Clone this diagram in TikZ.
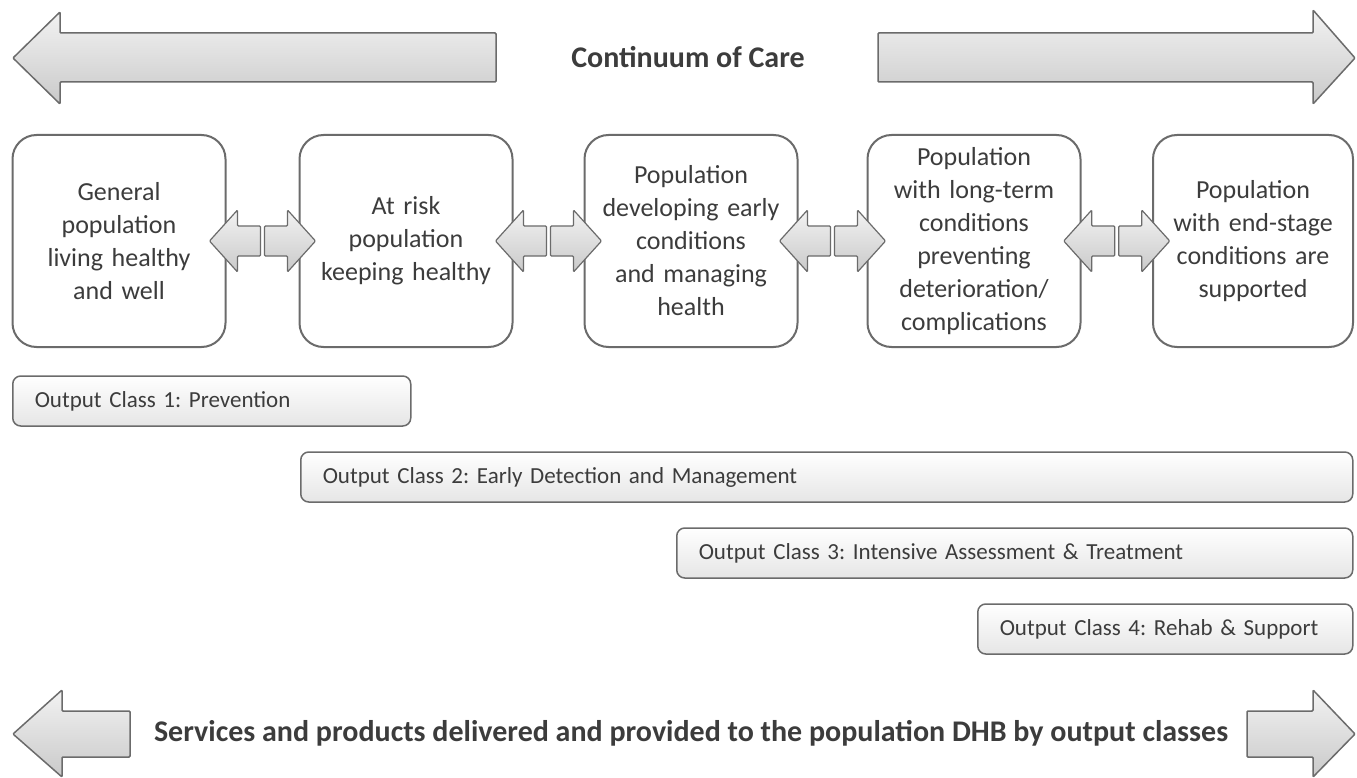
\documentclass[tikz,border=0pt]{standalone}
\usepackage{fontspec}
\setmainfont{Carlito}
\usetikzlibrary{calc}
\frenchspacing

\definecolor{boxgray}{HTML}{6B6B6B}
\definecolor{textgray}{HTML}{3C3C3C}

\tikzset{
  carebox/.style={draw=boxgray, line width=2pt, rounded corners=24pt, fill=white,
    minimum width=213pt, minimum height=212pt, text width=190pt, align=center,
    text=textgray, font=\fontsize{26}{33}\selectfont},
  classbar/.style={draw=boxgray, line width=1.5pt, rounded corners=8pt,
    top color=white, bottom color=gray!20, anchor=west, align=left,
    minimum height=50pt, inner xsep=22pt, text=textgray,
    font=\fontsize{23}{27}\selectfont},
  bigarrow/.style={draw=boxgray, line width=1.5pt, rounded corners=1pt,
    top color=gray!10, bottom color=gray!42},
  headline/.style={text=textgray, font=\fontsize{30}{36}\selectfont\bfseries},
  twoway/.pic={
    % left half
    \path[bigarrow, line width=1.2pt] (-2,-15) -- (-25,-15) -- (-25,-31) -- (-53,0)
      -- (-25,31) -- (-25,15) -- (-2,15) -- cycle;
    % right half
    \path[bigarrow, line width=1.2pt] (2,-15) -- (25,-15) -- (25,-31) -- (53,0)
      -- (25,31) -- (25,15) -- (2,15) -- cycle;
  }
}

\begin{document}
\begin{tikzpicture}[x=1pt, y=-1pt]
    \useasboundingbox (0,0) rectangle (1357,778);

    % Continuum of care arrows
    \path[bigarrow] (13,58) -- (60,12) -- (60,33) -- (496,33) -- (496,82)
      -- (60,82) -- (60,104) -- cycle;
    \path[bigarrow] (1355,58) -- (1313,10) -- (1313,33) -- (878,33) -- (878,82)
      -- (1313,82) -- (1313,104) -- cycle;
    \node[headline] (title) at (688,57) {Continuum of Care};

    % Population groups
    \node[carebox] (gen) at (119,241) {General\\population\\living healthy\\and well};
    \node[carebox] (risk) at (406,241) {At risk\\population\\keeping healthy};
    \node[carebox] (early) at (691,241) {Population\\developing early\\conditions\\and managing\\health};
    \node[carebox] (ltc) at (974,241) {Population\\with long-term\\conditions\\preventing\\deterioration/\\complications};
    \node[carebox, minimum width=200pt] (endstage) at (1253,241) {Population\\with end-stage\\conditions are\\supported};

    % Arrows between the groups
    \pic at ($(gen.east)!0.5!(risk.west)$) {twoway};
    \pic at ($(risk.east)!0.5!(early.west)$) {twoway};
    \pic at ($(early.east)!0.5!(ltc.west)$) {twoway};
    \pic at ($(ltc.east)!0.5!(endstage.west)$) {twoway};

    % Output classes
    \node[classbar, text width=354pt] (class1) at (12,401) {Output Class 1: Prevention};
    \node[classbar, text width=1008pt] (class2) at (300,477) {Output Class 2: Early Detection and Management};
    \node[classbar, text width=632pt] (class3) at (676,553) {Output Class 3: Intensive Assessment \& Treatment};
    \node[classbar, text width=331pt] (class4) at (977,629) {Output Class 4: Rehab \& Support};

    % Services arrows
    \path[bigarrow] (13,734) -- (62,690) -- (62,711) -- (130,711) -- (130,757)
      -- (62,757) -- (62,777) -- cycle;
    \path[bigarrow] (1355,734) -- (1313,690) -- (1313,711) -- (1247,711) -- (1247,757)
      -- (1313,757) -- (1313,777) -- cycle;
    \node[headline] (services) at (691,733) {Services and products delivered and provided to the population DHB by output classes};
\end{tikzpicture}
\end{document}
